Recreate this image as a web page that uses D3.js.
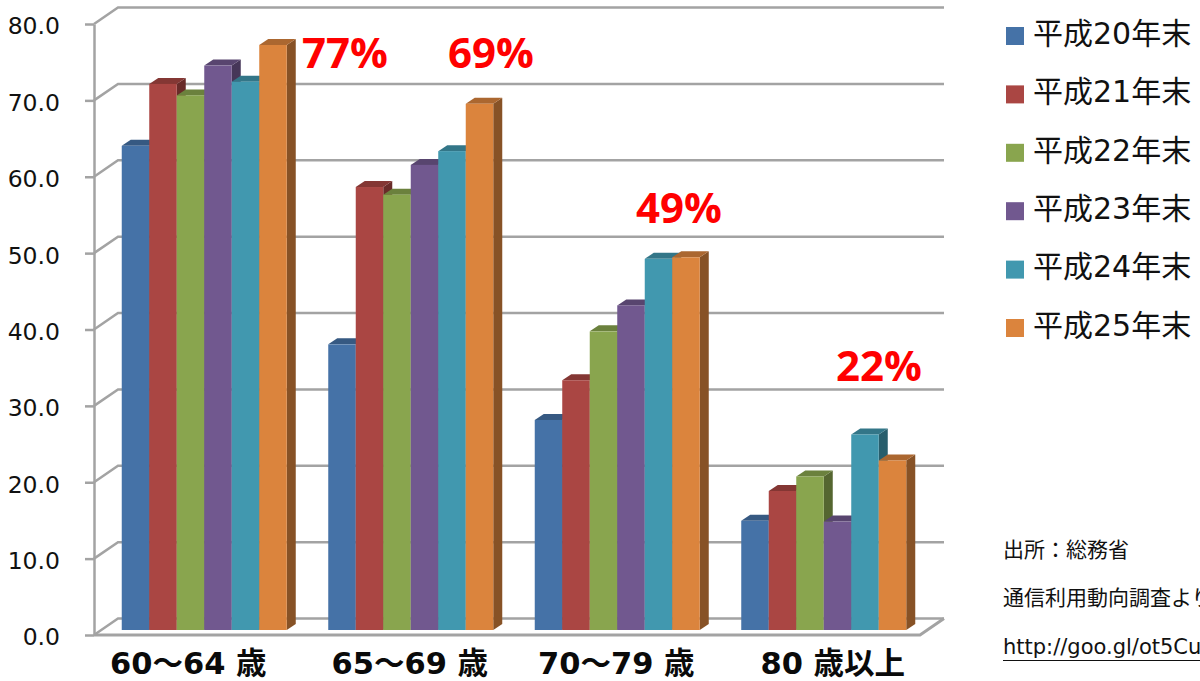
<!DOCTYPE html>
<html lang="ja">
<head>
<meta charset="utf-8">
<script src="https://cdn.jsdelivr.net/npm/d3@7"></script>
<style>
  html, body { margin: 0; padding: 0; background: #fff; overflow: hidden; }
  svg { display: block; font-family: "DejaVu Sans", "Noto Sans CJK JP", sans-serif; }
  .axis-y text { font-size: 23.5px; fill: #111; }
  .axis-x text { font-size: 30.5px; font-weight: bold; fill: #0a0a0a; }
  .legend text { font-size: 30px; fill: #111; }
  .note { font-size: 21px; fill: #111; }
  .pct { font-family: "Open Sans", sans-serif; font-size: 42px; font-weight: bold; fill: #ff0000; text-anchor: middle; }
</style>
</head>
<body>
<div id="chart"></div>
<script>
const categories = ["60～64 歳", "65～69 歳", "70～79 歳", "80 歳以上"];
const seriesNames = ["平成20年末", "平成21年末", "平成22年末", "平成23年末", "平成24年末", "平成25年末"];
const seriesColors = ["#4572A7", "#AA4643", "#89A54E", "#71588F", "#4198AF", "#DB843D"];
const h20 = [63.4, 37.4, 27.5, 14.3];
const h21 = [71.5, 58.0, 32.7, 18.2];
const h22 = [70.0, 57.0, 39.1, 20.1];
const h23 = [73.9, 60.9, 42.5, 14.2];
const h24 = [71.8, 62.7, 48.6, 25.6];
const h25 = [76.6, 68.9, 48.8, 22.2];
const allSeries = [h20, h21, h22, h23, h24, h25];
const callouts = ["77%", "69%", "49%", "22%"];
const noteLines = ["出所：総務省", "通信利用動向調査より", "http://goo.gl/ot5Cu"];

const width = 1200;
const height = 681;

// fake 3d: how far the wall sits behind the axis, and the bars inside that
const wall = { dx: 24, dy: -16.5 };
const barShift = { dx: 7, dy: -5 };
const barDepth = { dx: 9, dy: -6 };

const y = d3.scaleLinear().domain([0, 80]).range([635, 24]);
const x = d3.scaleBand().domain(categories).range([94, 920]);
const xInner = d3
  .scaleBand()
  .domain(d3.range(seriesNames.length))
  .range([0, x.bandwidth()])
  .paddingOuter(0.5 * (206.5 - 165) / 27.5);

const svg = d3
  .select("#chart")
  .append("svg")
  .attr("width", width)
  .attr("height", height);

// walls and floor
const gridColor = "#a3a3a3";
const grid = svg.append("g").attr("fill", "none").attr("stroke", gridColor).attr("stroke-width", 2.5);
const right = x.range()[1];
const left = x.range()[0];

grid
  .selectAll("path.grid")
  .data(y.ticks(8))
  .join("path")
  .attr("class", "grid")
  .attr("d", (d) => {
    const p = d3.path();
    p.moveTo(left, y(d));
    p.lineTo(left + wall.dx, y(d) + wall.dy);
    p.lineTo(right + wall.dx, y(d) + wall.dy);
    return p.toString();
  });

// floor edge
const floor = d3.path();
floor.moveTo(left, y(0));
floor.lineTo(right, y(0));
floor.lineTo(right + wall.dx, y(0) + wall.dy);
grid.append("path").attr("d", floor.toString()).attr("stroke-width", 3);

// y axis
const axisY = svg
  .append("g")
  .attr("class", "axis-y")
  .attr("transform", `translate(${left},0)`)
  .call(d3.axisLeft(y).ticks(8).tickFormat(d3.format(".1f")).tickSize(9).tickSizeOuter(0).tickPadding(25));
axisY.selectAll("line, path").attr("stroke", gridColor).attr("stroke-width", 2.5);
axisY.selectAll("text").attr("dy", "0.42em");
axisY.attr("font-family", null).attr("font-size", null);

// x axis labels, nudged one by one like the text boxes in the original
const labelNudge = [-15, 0, 0, 10];
const axisX = svg
  .append("g")
  .attr("class", "axis-x")
  .attr("transform", `translate(${barShift.dx - 1},${y(0)})`)
  .call(d3.axisBottom(x).tickSize(0).tickPadding(17));
axisX.select(".domain").remove();
axisX.selectAll("text").attr("dx", (d, i) => labelNudge[i]);
axisX.attr("font-family", null).attr("font-size", null);

// bars
const groups = svg
  .append("g")
  .selectAll("g")
  .data(categories)
  .join("g")
  .attr("transform", (d) => `translate(${x(d) + barShift.dx},${barShift.dy})`);

groups.each(function (cat, ci) {
  const g = d3.select(this);
  allSeries.forEach((values, si) => {
    const color = seriesColors[si];
    const bx = xInner(si);
    const bw = xInner.bandwidth();
    const top = y(values[ci]);
    const bottom = y(0);
    const bar = g.append("g");

    bar
      .append("path")
      .attr("fill", d3.rgb(color).darker(1.35))
      .attr(
        "d",
        `M${bx + bw},${top}L${bx + bw + barDepth.dx},${top + barDepth.dy}L${bx + bw + barDepth.dx},${bottom + barDepth.dy}L${bx + bw},${bottom}Z`
      );
    bar
      .append("path")
      .attr("fill", d3.rgb(color).darker(0.7))
      .attr(
        "d",
        `M${bx},${top}L${bx + barDepth.dx},${top + barDepth.dy}L${bx + bw + barDepth.dx},${top + barDepth.dy}L${bx + bw},${top}Z`
      );
    bar
      .append("rect")
      .attr("x", bx)
      .attr("y", top)
      .attr("width", bw)
      .attr("height", bottom - top)
      .attr("fill", color);
  });
});

// red callouts, hand placed like in the original slide
const calloutPos = [
  [345, 53],
  [491, 53],
  [679, 208],
  [879, 366],
];
svg
  .append("g")
  .selectAll("text")
  .data(callouts)
  .join("text")
  .attr("class", "pct")
  .attr("x", (d, i) => calloutPos[i][0])
  .attr("y", (d, i) => calloutPos[i][1])
  .attr("dy", "0.36em")
  .text((d) => d);

// legend
const legendY = d3.scalePoint().domain(seriesNames).range([36, 328]);
const legend = svg
  .append("g")
  .attr("class", "legend")
  .selectAll("g")
  .data(seriesNames)
  .join("g")
  .attr("transform", (d) => `translate(1006,${legendY(d)})`);
legend
  .append("rect")
  .attr("y", -9)
  .attr("width", 18)
  .attr("height", 18)
  .attr("fill", (d, i) => seriesColors[i]);
legend
  .append("text")
  .attr("x", 27)
  .attr("y", -3)
  .attr("dy", "0.36em")
  .text((d) => d);

// source note
const noteY = [549, 597, 646];
svg
  .append("g")
  .selectAll("text")
  .data(noteLines)
  .join("text")
  .attr("class", "note")
  .attr("x", 1003)
  .attr("y", (d, i) => noteY[i])
  .attr("dy", "0.36em")
  .text((d) => d);
svg
  .append("line")
  .attr("x1", 1003)
  .attr("x2", width)
  .attr("y1", 660.5)
  .attr("y2", 660.5)
  .attr("stroke", "#111")
  .attr("stroke-width", 1);
</script>
</body>
</html>
